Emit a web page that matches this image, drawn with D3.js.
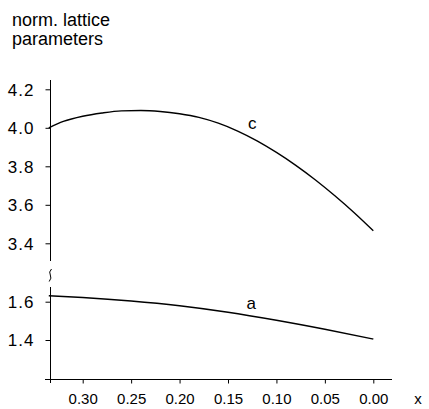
<!DOCTYPE html>
<html>
<head>
<meta charset="utf-8">
<script src="https://cdn.jsdelivr.net/npm/d3@7"></script>
<style>
  html, body { margin: 0; padding: 0; background: #fff; }
  svg { display: block; }
  text { font-family: "Liberation Sans", Arial, sans-serif; fill: #000; }
</style>
</head>
<body>
<svg id="chart" width="429" height="409"></svg>
<script>
// ---- data ----
const xValues = [0.335, 0.32, 0.30, 0.28, 0.26, 0.24, 0.22, 0.20, 0.18, 0.16, 0.14, 0.12, 0.10, 0.08, 0.06, 0.04, 0.02, 0.00];
const cValues = [4.000, 4.033, 4.060, 4.077, 4.088, 4.090, 4.085, 4.073, 4.054, 4.024, 3.983, 3.932, 3.872, 3.805, 3.730, 3.648, 3.560, 3.465];
const aX      = [0.335, 0.30, 0.25, 0.20, 0.15, 0.10, 0.05, 0.00];
const aValues = [1.631, 1.622, 1.604, 1.579, 1.545, 1.503, 1.456, 1.405];
const xTicks = [0.30, 0.25, 0.20, 0.15, 0.10, 0.05, 0.00];
const upperTicks = [3.4, 3.6, 3.8, 4.0, 4.2];
const lowerTicks = [1.4, 1.6];
const titleLines = ["norm. lattice", "parameters"];
const xLabel = "x";
const seriesLabels = [{name: "c", x: 0.125, y: 4.023, panel: "upper"}, {name: "a", x: 0.126, y: 1.592, panel: "lower"}];

// ---- layout ----
const svg = d3.select("#chart");
const axisX = 50.5;
const xAxisY = 379.5;

const x = d3.scaleLinear().domain([0.30, 0.00]).range([82.7, 373.3]);
const yUpper = d3.scaleLinear().domain([3.4, 4.2]).range([243.3, 89.3]);
const yLower = d3.scaleLinear().domain([1.4, 1.6]).range([340.0, 301.7]);

// title
svg.append("text").attr("x", 12).attr("y", 26).style("font-size", "18px").text(titleLines[0]);
svg.append("text").attr("x", 12).attr("y", 45).style("font-size", "18px").text(titleLines[1]);

// y axis lines (broken)
svg.append("line").attr("x1", axisX).attr("x2", axisX).attr("y1", 80).attr("y2", 261)
  .attr("stroke", "#000").attr("stroke-width", 1);
svg.append("line").attr("x1", axisX).attr("x2", axisX).attr("y1", 287).attr("y2", 383)
  .attr("stroke", "#000").attr("stroke-width", 1);
// break mark
svg.append("path").attr("d", "M51.5,269 Q48.5,272 50.3,275 Q52,278 49.2,281.5")
  .attr("fill", "none").attr("stroke", "#000").attr("stroke-width", 1);

// x axis line
svg.append("line").attr("x1", 45).attr("x2", 392).attr("y1", xAxisY).attr("y2", xAxisY)
  .attr("stroke", "#000").attr("stroke-width", 1);

function styleAxis(g) {
  g.select(".domain").remove();
  g.selectAll(".tick line").attr("stroke", "#000").attr("stroke-width", 1);
  g.selectAll(".tick text").attr("fill", "#000").style("font-family", "Liberation Sans, Arial, sans-serif");
}

const gUp = svg.append("g").attr("transform", `translate(${axisX},0)`)
  .call(d3.axisLeft(yUpper).tickValues(upperTicks).tickSize(5).tickPadding(11).tickFormat(d3.format(".1f")));
styleAxis(gUp);
gUp.selectAll(".tick text").style("font-size", "17px").style("letter-spacing", "1px").attr("dy", "0.34em");

const gLo = svg.append("g").attr("transform", `translate(${axisX},0)`)
  .call(d3.axisLeft(yLower).tickValues(lowerTicks).tickSize(5).tickPadding(11).tickFormat(d3.format(".1f")));
styleAxis(gLo);
gLo.selectAll(".tick text").style("font-size", "17px").style("letter-spacing", "1px").attr("dy", "0.34em");

const gX = svg.append("g").attr("transform", `translate(0,${xAxisY})`)
  .call(d3.axisBottom(x).tickValues(xTicks).tickSize(4).tickPadding(10).tickFormat(d3.format(".2f")));
styleAxis(gX);
gX.selectAll(".tick text").style("font-size", "15px");

svg.append("text").attr("x", 418).attr("y", 404).attr("text-anchor", "middle")
  .style("font-size", "15px").text(xLabel);

// curves
const lineUp = d3.line().x((d, i) => x(xValues[i])).y(d => yUpper(d)).curve(d3.curveMonotoneX);
svg.append("path").datum(cValues).attr("d", lineUp)
  .attr("fill", "none").attr("stroke", "#000").attr("stroke-width", 1.4);

const lineLo = d3.line().x((d, i) => x(aX[i])).y(d => yLower(d)).curve(d3.curveMonotoneX);
svg.append("path").datum(aValues).attr("d", lineLo)
  .attr("fill", "none").attr("stroke", "#000").attr("stroke-width", 1.4);

// curve labels
seriesLabels.forEach(s => {
  const yy = s.panel === "upper" ? yUpper(s.y) : yLower(s.y);
  svg.append("text").attr("x", x(s.x)).attr("y", yy).attr("dy", "0.35em")
    .attr("text-anchor", "middle").style("font-size", "17px").text(s.name);
});
</script>
</body>
</html>
